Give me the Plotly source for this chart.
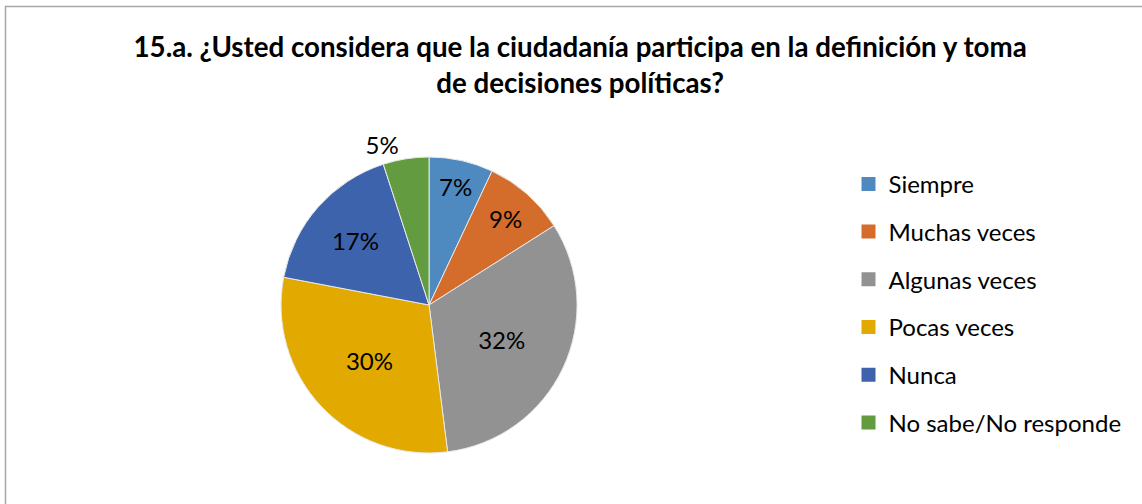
import plotly.graph_objects as go

categorias = ["Siempre", "Muchas veces", "Algunas veces", "Pocas veces", "Nunca", "No sabe/No responde"]
porcentajes = [7, 9, 32, 30, 17, 5]
colores = ["#4E8AC0", "#D46C2B", "#929292", "#E2AA00", "#3D63AD", "#629B40"]
titulo = ("15.a. ¿Usted considera que la ciudadanía participa en la definición y toma"
          "<br>de decisiones políticas?")

fig = go.Figure()

# Pastel (la leyenda se dibuja aparte para poder separar las entradas)
fig.add_trace(go.Pie(
    labels=categorias,
    values=porcentajes,
    sort=False,
    direction='clockwise',
    rotation=0,
    marker=dict(colors=colores, line=dict(color='#E8E8E8', width=1)),
    texttemplate='%{percent:.0%}',
    textposition=['inside'] * 5 + ['outside'],
    insidetextorientation='horizontal',
    textfont=dict(family='Lato', size=24, color='black'),
    showlegend=False,
    hoverinfo='label+percent',
    domain=dict(x=[0.2461, 0.5053], y=[0.1012, 0.6885]),
))

# Entradas de leyenda
for nombre, color in zip(categorias, colores):
    fig.add_trace(go.Scatter(
        x=[None], y=[None],
        mode='markers',
        marker=dict(symbol='square', size=14, color=color),
        name=nombre,
        legendgroup=nombre,
    ))

fig.update_layout(
    width=1142,
    height=504,
    paper_bgcolor='white',
    plot_bgcolor='white',
    margin=dict(l=0, r=0, t=0, b=0),
    title=dict(
        text=titulo,
        x=0.508, xanchor='center',
        y=0.887, yanchor='middle',
        font=dict(family='Lato', size=27.7, color='black', weight='bold'),
    ),
    xaxis=dict(visible=False),
    yaxis=dict(visible=False),
    legend=dict(
        x=0.743, xanchor='left',
        y=0.679, yanchor='top',
        font=dict(family='Lato', size=24, color='black'),
        tracegroupgap=13.5,
        bgcolor='rgba(0,0,0,0)',
    ),
    shapes=[dict(
        type='rect', xref='paper', yref='paper',
        x0=5.5 / 1142, x1=1.05, y0=-0.05, y1=1 - 6.5 / 504,
        line=dict(color='#A6A6A6', width=1.5),
        layer='below',
    )],
)

# quitar el margen del body para que la figura empiece en (0,0)
fig.write_html("out.html", config={'displayModeBar': False},
               post_script="document.body.style.margin='0px';")
